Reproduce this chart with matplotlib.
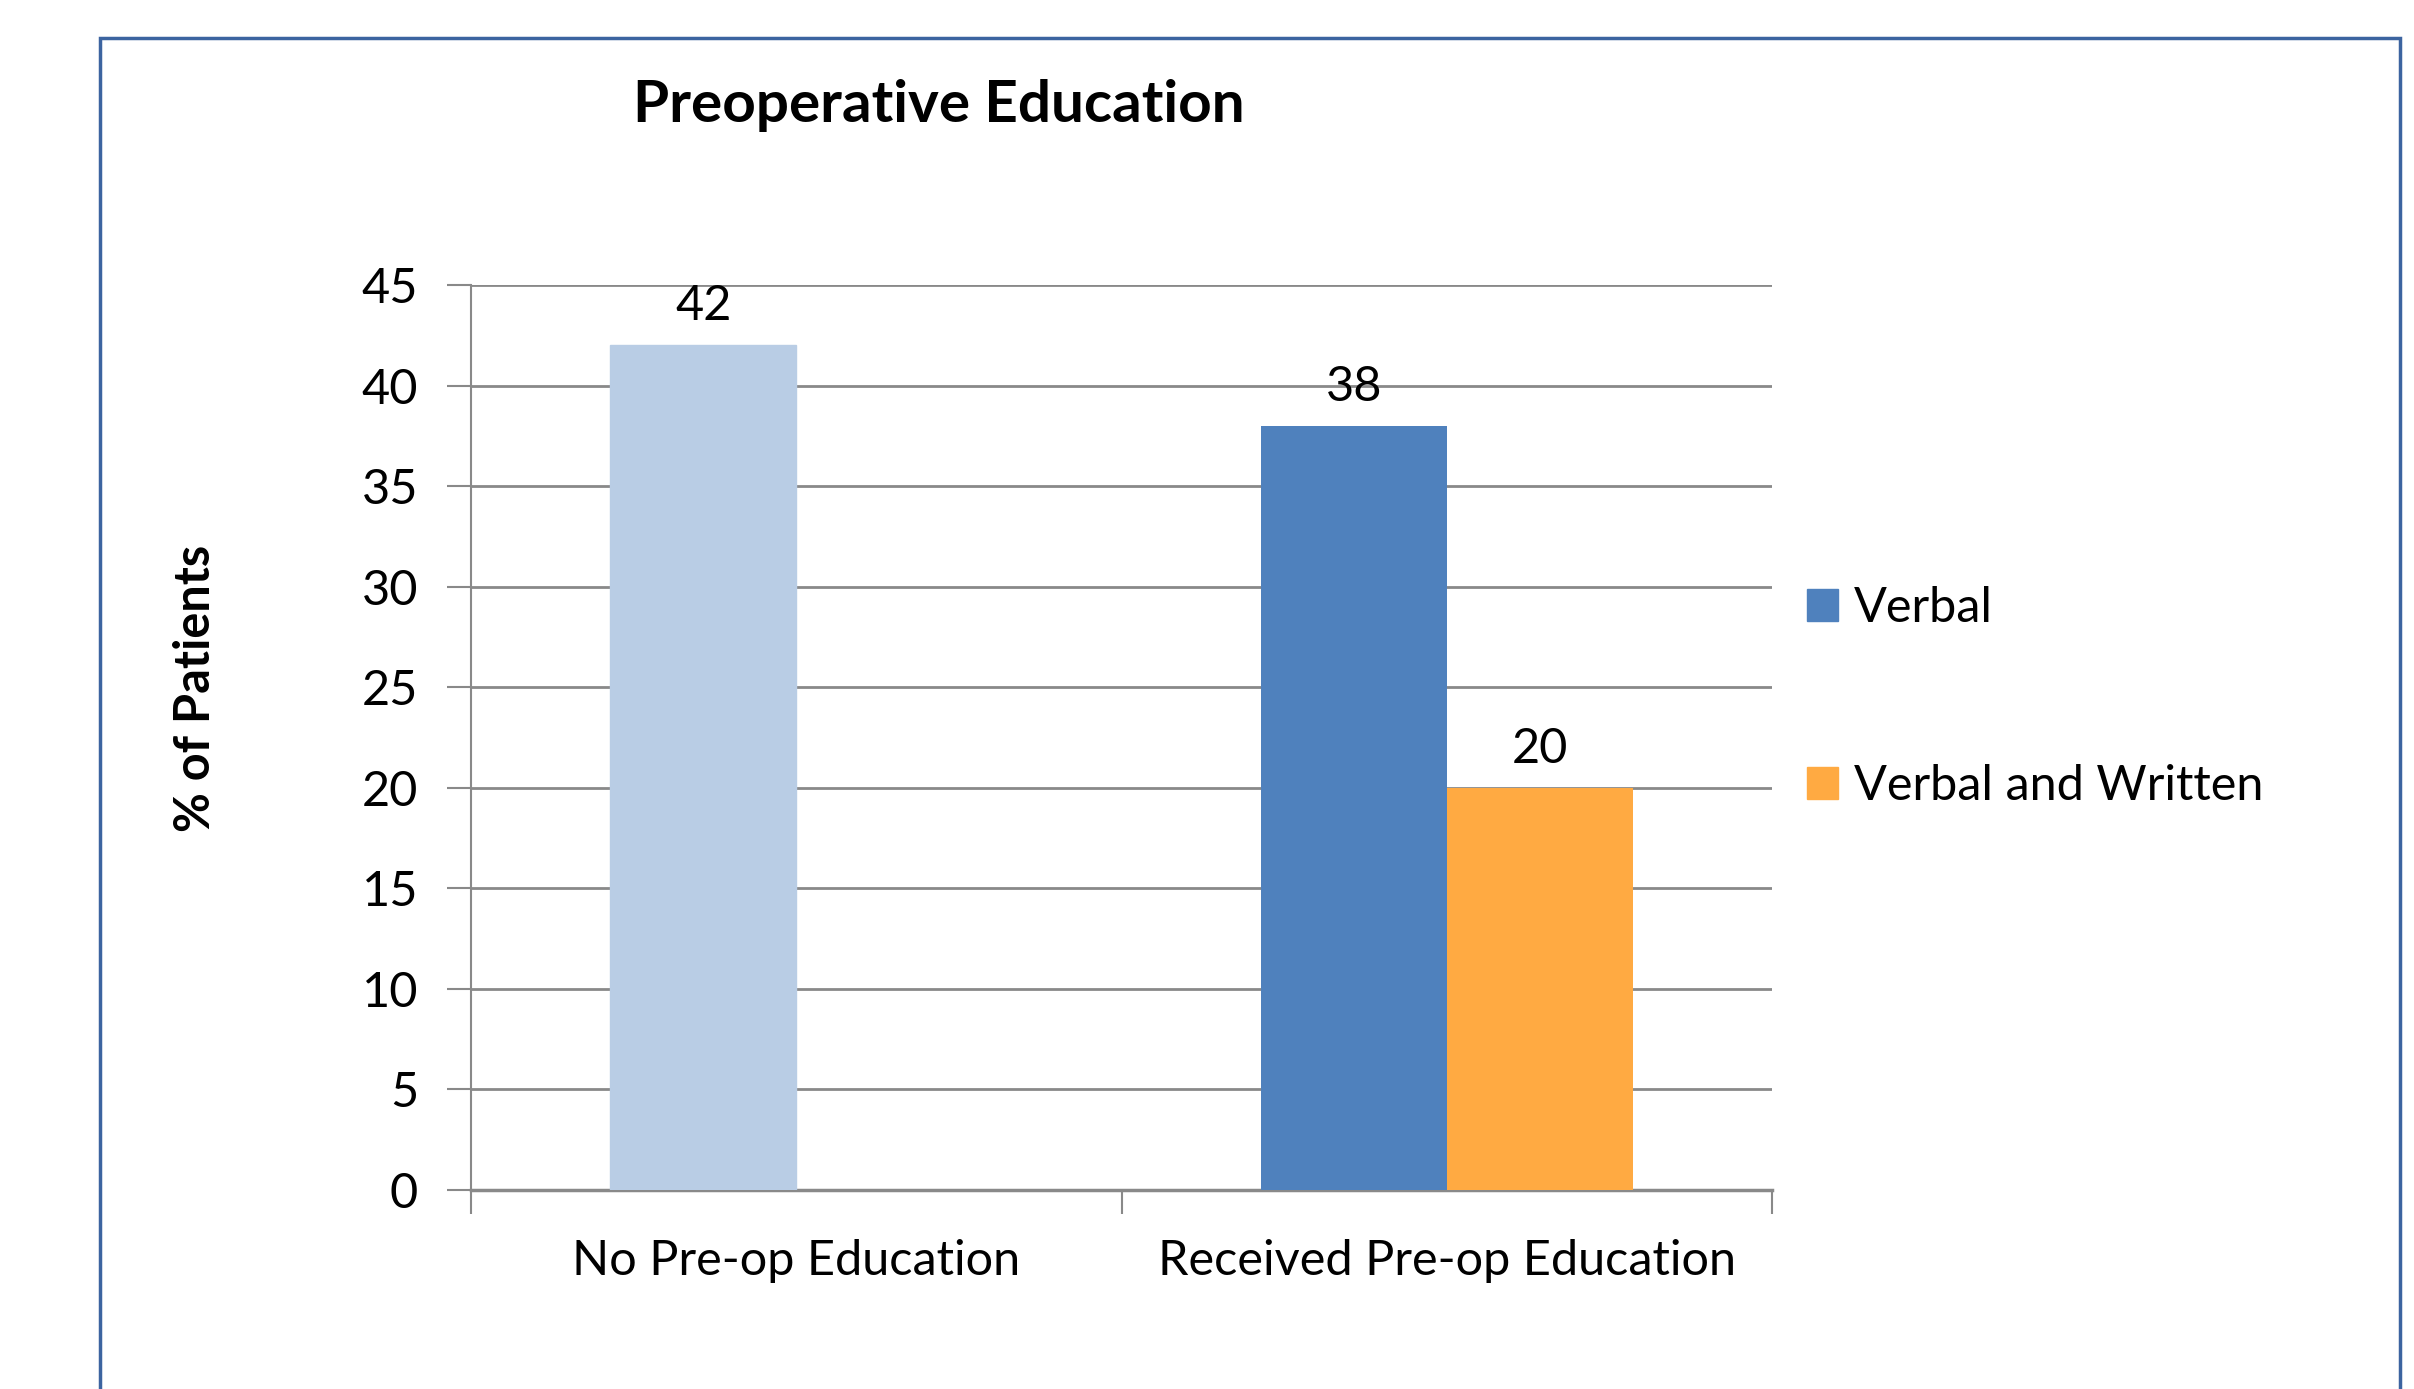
import matplotlib
matplotlib.use('AGG')
import matplotlib.pyplot as plt
from matplotlib.patches import Rectangle, Patch

# Preoperative education chart, Excel style
categories = ['No Pre-op Education', 'Received Pre-op Education']
verbal = [42, 38]
verbal_written = [None, 20]
series_names = ['Verbal', 'Verbal and Written']
yticks = [0, 5, 10, 15, 20, 25, 30, 35, 40, 45]

TITLE = 'Preoperative Education'
YLABEL = '% of Patients'
LIGHTBLUE = '#B9CDE5'
BLUE = '#4F81BD'
ORANGE = '#FFAA42'
GRIDGREY = '#898989'
FS = 35

W, H = 2414, 1389
plt.rcParams['font.family'] = ['Lato', 'DejaVu Sans']
fig = plt.figure(figsize=(W / 100, H / 100), dpi=100)

# axes box in pixels: left 471, right 1772, top 285, bottom 1190
ax = fig.add_axes([471 / W, 1 - 1190 / H, (1772 - 471) / W, (1190 - 285) / H])

bw = 0.286
xs = list(range(len(categories)))
b1 = ax.bar([x - bw / 2 for x in xs], verbal, bw, color=BLUE, zorder=3)
b1[0].set_color(LIGHTBLUE)
vw_x = [x + bw / 2 for x, v in zip(xs, verbal_written) if v is not None]
vw_v = [v for v in verbal_written if v is not None]
b2 = ax.bar(vw_x, vw_v, bw, color=ORANGE, zorder=3)

for x, v in zip(xs, verbal):
    ax.annotate(str(v), (x - bw / 2, v), xytext=(0, 18), textcoords='offset points',
                ha='center', va='baseline', fontsize=FS)
for x, v in zip(vw_x, vw_v):
    ax.annotate(str(v), (x, v), xytext=(0, 18), textcoords='offset points',
                ha='center', va='baseline', fontsize=FS)

ax.set_xlim(-0.5, len(categories) - 0.5)
ax.set_ylim(0, 45)
ax.set_yticks(yticks)
ax.set_yticklabels([str(t) for t in yticks])
ax.yaxis.grid(True, color=GRIDGREY, linewidth=2, zorder=0)
ax.set_axisbelow(True)

ax.set_xticks([-0.5, 0.5, 1.5])
ax.set_xticklabels([])
ax.set_xticks(xs, minor=True)
ax.set_xticklabels(categories, minor=True)
ax.tick_params(axis='x', which='minor', length=0, pad=35, labelsize=FS)
ax.tick_params(axis='x', which='major', length=17, width=1.5, color=GRIDGREY, direction='out')
ax.tick_params(axis='y', length=17, width=1.5, color=GRIDGREY, pad=21, labelsize=FS)

for s in ['top', 'right']:
    ax.spines[s].set_visible(False)
ax.spines['left'].set_color(GRIDGREY)
ax.spines['left'].set_linewidth(1.5)
ax.spines['bottom'].set_color(GRIDGREY)
ax.spines['bottom'].set_linewidth(2.5)

fig.text(939 / W, 1 - 105 / H, TITLE, ha='center', va='center', fontsize=42, fontweight='bold')
fig.text(196 / W, 1 - 688 / H, YLABEL, ha='center', va='center', rotation=90,
         fontsize=FS, fontweight='bold')

handles = [Patch(color=BLUE), Patch(color=ORANGE)]
fig.legend(handles, series_names, loc='center left', bbox_to_anchor=(1807 / W, 1 - 697 / H),
           frameon=False, fontsize=FS, handlelength=0.63, handleheight=0.63,
           handletextpad=0.33, labelspacing=2.75, borderpad=0, borderaxespad=0)

# chart-area border (bottom edge falls outside the picture)
fig.patches.append(Rectangle((100 / W, -0.05), (2400 - 100) / W, 1.05 - 38 / H,
                             transform=fig.transFigure, fill=False,
                             edgecolor='#3C64A0', linewidth=2.5))

plt.savefig('out.png', dpi=100)
